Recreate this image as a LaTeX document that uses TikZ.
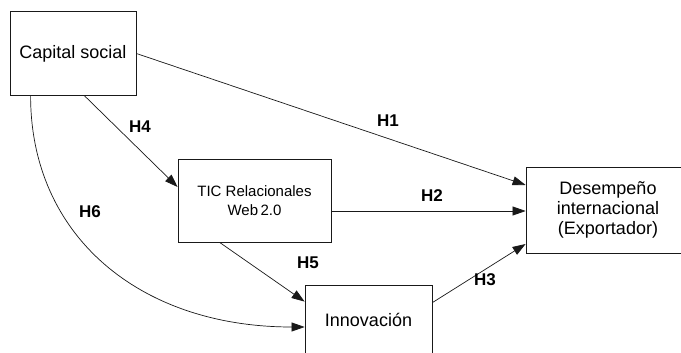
\documentclass[tikz,border=0pt]{standalone}
\usepackage{fontspec}
\setmainfont{Liberation Sans}
\usetikzlibrary{arrows.meta,calc}
\begin{document}
\begin{tikzpicture}[x=1pt,y=-1pt,
  box/.style={draw=black!90, line width=0.8pt, rectangle, inner sep=0pt, align=center, font=\fontsize{18}{20}\selectfont},
  conn/.style={draw=black!90, line width=0.7pt, -{Triangle[length=13pt,width=9pt]}},
  hyp/.style={font=\bfseries\fontsize{17}{20}\selectfont, inner sep=0pt}]
\useasboundingbox (0,0) rectangle (681,353);
\clip (0,0) rectangle (681,353);
\fill[white] (0,0) rectangle (681,353);
\node[box, minimum width=126pt, minimum height=84pt] (cs) at (73,53.5) {Capital social};
\node[box, minimum width=153pt, minimum height=83pt, font=\fontsize{15}{18.3}\selectfont] (tic) at (254.5,200.5) {TIC Relacionales\\Web\,2.0};
\node[box, minimum width=127pt, minimum height=70pt] (inn) at (368.5,320) {Innovación};
\node[box, minimum width=164pt, minimum height=86pt] (de) at (608,210) {Desempeño\\internacional\\(Exportador)};
\draw[conn] (cs.east) -- ($(de.west)+(0,-25)$);
\draw[conn] ($(tic.east)+(0,10.5)$) -- ($(de.west)+(0,1)$);
\draw[conn] ($(inn.north east)+(0,18)$) -- ($(de.west)+(0,34)$);
\draw[conn] ($(cs.south west)+(75,0)$) -- ($(tic.west)+(0,-13.5)$);
\draw[conn] ($(tic.south west)+(42,0)$) -- ($(inn.north west)+(0,17)$);
\draw[conn] ($(cs.south west)+(21,0)$) .. controls +(0,140) and +(-165,0) .. ($(inn.west)+(0,7)$);
\node[hyp] (h1) at (388,121) {H1};
\node[hyp] (h2) at (432,196) {H2};
\node[hyp] (h3) at (485,280) {H3};
\node[hyp] (h4) at (140,127) {H4};
\node[hyp] (h5) at (308,263) {H5};
\node[hyp] (h6) at (90,212) {H6};
\end{tikzpicture}
\end{document}
